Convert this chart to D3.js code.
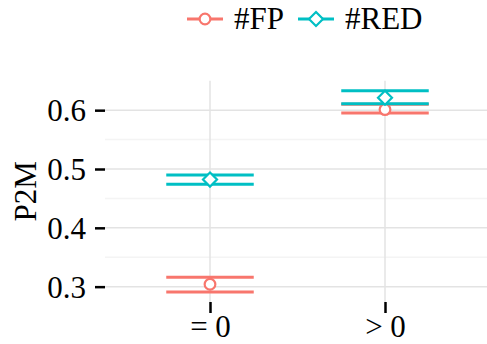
<!DOCTYPE html>
<html>
<head>
<meta charset="utf-8">
<script src="https://cdn.jsdelivr.net/npm/d3@7"></script>
<style>
  body { margin: 0; background: #fff; }
  text { font-family: "Liberation Serif", "DejaVu Serif", serif; }
</style>
</head>
<body>
<div class="chart"></div>
<script>
// data
let categories = ["= 0", "> 0"];
let seriesNames = ["#FP", "#RED"];
let fpMean = [0.304, 0.601];
let fpLow  = [0.291, 0.595];
let fpHigh = [0.316, 0.610];
let redMean = [0.482, 0.621];
let redLow  = [0.474, 0.611];
let redHigh = [0.490, 0.633];
let yTicks = [0.3, 0.4, 0.5, 0.6];
let yMinor = [0.35, 0.45, 0.55];

let colors = d3.scaleOrdinal().domain(seriesNames).range(["#F8766D", "#00BFC4"]);

let W = 487, H = 344;
let pLeft = 105, pRight = 490, pTop = 80.7, pBottom = 302;
let fs = 31;

let svg = d3.select(".chart").append("svg")
    .attr("width", W)
    .attr("height", H)

let rows = [];
categories.forEach(function (c, i) {
    rows.push({cat: c, s: "#FP", mean: fpMean[i], low: fpLow[i], high: fpHigh[i]});
    rows.push({cat: c, s: "#RED", mean: redMean[i], low: redLow[i], high: redHigh[i]});
})

// discrete x scale, ggplot style expansion (0.6 each side)
let x = d3.scalePoint().domain(categories).range([pLeft, pRight]).padding(0.6);
let step = x.step();

let allV = rows.map(d => d.low).concat(rows.map(d => d.high));
let lo = d3.min(allV), hi = d3.max(allV), ex = (hi - lo) * 0.05;
let y = d3.scaleLinear().domain([lo - ex, hi + ex]).range([pBottom, pTop]);

// grid
svg.append("g").selectAll("line").data(yMinor).enter().append("line")
    .attr("x1", pLeft).attr("x2", pRight)
    .attr("y1", d => y(d)).attr("y2", d => y(d))
    .attr("stroke", "#F4F4F4").attr("stroke-width", 1.5)
svg.append("g").selectAll("line").data(yTicks).enter().append("line")
    .attr("x1", pLeft).attr("x2", pRight)
    .attr("y1", d => y(d)).attr("y2", d => y(d))
    .attr("stroke", "#E3E3E3").attr("stroke-width", 1.5)
svg.append("g").selectAll("line").data(categories).enter().append("line")
    .attr("x1", d => x(d)).attr("x2", d => x(d))
    .attr("y1", pTop).attr("y2", pBottom)
    .attr("stroke", "#E3E3E3").attr("stroke-width", 1.5)

// axes
let yAxis = svg.append("g")
    .attr("transform", "translate(" + pLeft + ",0)")
    .call(d3.axisLeft(y).tickValues(yTicks).tickFormat(d3.format(".1f")).tickSize(10).tickPadding(9))
yAxis.select(".domain").remove()
yAxis.selectAll("line").attr("stroke", "#000").attr("stroke-width", 2.5)
yAxis.selectAll("text").attr("font-size", fs).attr("fill", "#000").attr("dy", "0.34em")

let xAxis = svg.append("g")
    .attr("transform", "translate(0," + pBottom + ")")
    .call(d3.axisBottom(x).tickSize(11).tickPadding(0))
xAxis.select(".domain").remove()
xAxis.selectAll("line").attr("stroke", "#000").attr("stroke-width", 2.5)
xAxis.selectAll("text").attr("font-size", fs).attr("fill", "#000")
    .attr("y", 35).attr("dy", 0)

svg.append("text")
    .attr("transform", "translate(36," + ((pTop + pBottom) / 2) + ") rotate(-90)")
    .attr("text-anchor", "middle")
    .attr("font-size", fs)
    .text("P2M")

// error bar caps (width 0.5 of a step)
let capW = step * 0.5;
let bars = svg.append("g").selectAll("g").data(rows).enter().append("g")
bars.append("line")
    .attr("x1", d => x(d.cat) - capW / 2).attr("x2", d => x(d.cat) + capW / 2)
    .attr("y1", d => y(d.low)).attr("y2", d => y(d.low))
    .attr("stroke", d => colors(d.s)).attr("stroke-width", 3)
bars.append("line")
    .attr("x1", d => x(d.cat) - capW / 2).attr("x2", d => x(d.cat) + capW / 2)
    .attr("y1", d => y(d.high)).attr("y2", d => y(d.high))
    .attr("stroke", d => colors(d.s)).attr("stroke-width", 3)

let circle = d3.symbol().type(d3.symbolCircle).size(90);
let diamond = "M0,-7L7,0L0,7L-7,0Z";

bars.append("path")
    .attr("transform", d => "translate(" + x(d.cat) + "," + y(d.mean) + ")")
    .attr("d", d => d.s === "#FP" ? circle() : diamond)
    .attr("fill", "#fff")
    .attr("stroke", d => colors(d.s))
    .attr("stroke-width", 2.2)

// legend
let legendX = [187, 298];
let legend = svg.append("g").selectAll("g").data(seriesNames).enter().append("g")
    .attr("transform", (d, i) => "translate(" + legendX[i] + ",19)")
legend.append("line")
    .attr("x1", 0).attr("x2", 36)
    .attr("stroke", d => colors(d)).attr("stroke-width", 3)
legend.append("path")
    .attr("transform", "translate(18,0)")
    .attr("d", d => d === "#FP" ? circle() : diamond)
    .attr("fill", "#fff")
    .attr("stroke", d => colors(d))
    .attr("stroke-width", 2.2)
legend.append("text")
    .attr("x", 47)
    .attr("y", 10)
    .attr("font-size", fs)
    .text(d => d)
</script>
</body>
</html>
